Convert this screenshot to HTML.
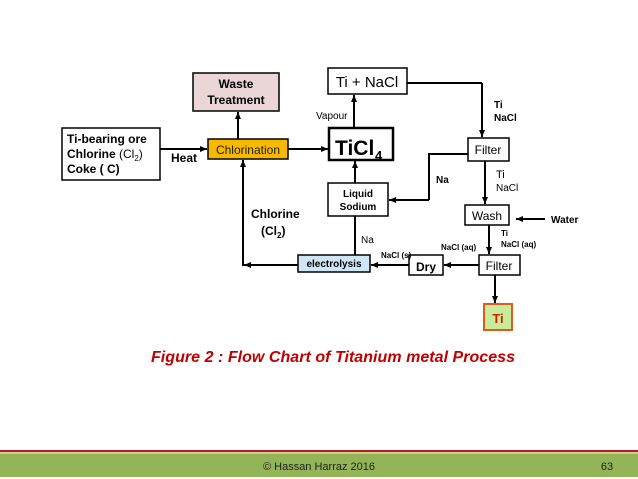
<!DOCTYPE html>
<html><head><meta charset="utf-8"><style>
html,body{margin:0;padding:0;background:#fff;}
svg{display:block;font-family:"Liberation Sans",Arial,sans-serif;}
</style></head><body>
<svg width="638" height="479" viewBox="0 0 638 479" xmlns="http://www.w3.org/2000/svg">
<defs>
<marker id="a" markerWidth="8" markerHeight="8" refX="7" refY="4" orient="auto" markerUnits="userSpaceOnUse">
<path d="M0,1 L7,4 L0,7 z" fill="#000"/></marker>
</defs>
<rect width="638" height="479" fill="#fff"/>
<g stroke="#000" stroke-width="2" fill="none">
<line x1="160" y1="149" x2="207" y2="149" marker-end="url(#a)"/>
<line x1="238" y1="139" x2="238" y2="112" marker-end="url(#a)"/>
<line x1="288" y1="149" x2="328" y2="149" marker-end="url(#a)"/>
<line x1="354" y1="128" x2="354" y2="95" marker-end="url(#a)"/>
<polyline points="407,83 482,83"/>
<line x1="482" y1="83" x2="482" y2="137" marker-end="url(#a)"/>
<polyline points="468,154 429,154 429,200"/>
<line x1="429" y1="200" x2="389" y2="200" marker-end="url(#a)"/>
<line x1="485" y1="161" x2="485" y2="204" marker-end="url(#a)"/>
<line x1="545" y1="219" x2="516" y2="219" marker-end="url(#a)"/>
<line x1="489" y1="225" x2="489" y2="254" marker-end="url(#a)"/>
<line x1="479" y1="265" x2="444" y2="265" marker-end="url(#a)"/>
<line x1="409" y1="265" x2="371" y2="265" marker-end="url(#a)"/>
<line x1="355" y1="255" x2="355" y2="216"/>
<line x1="355" y1="183" x2="355" y2="161" marker-end="url(#a)"/>
<line x1="298" y1="265" x2="244" y2="265" marker-end="url(#a)"/>
<line x1="243" y1="266" x2="243" y2="160" marker-end="url(#a)"/>
<line x1="495" y1="275" x2="495" y2="303" marker-end="url(#a)"/>
</g>
<g stroke="#000" stroke-width="1.5">
<rect x="62" y="128" width="98" height="52" fill="#fff"/>
<rect x="193" y="73" width="86" height="38" fill="#ead6d6"/>
<rect x="208" y="139" width="80" height="20" fill="#f7b800"/>
<rect x="328" y="68" width="79" height="26" fill="#fff"/>
<rect x="329" y="128" width="64" height="32" fill="#fff" stroke-width="2.5"/>
<rect x="328" y="183" width="60" height="33" fill="#fff"/>
<rect x="468" y="138" width="41" height="23" fill="#fff"/>
<rect x="465" y="205" width="44" height="20" fill="#fff"/>
<rect x="479" y="255" width="41" height="20" fill="#fff"/>
<rect x="409" y="255" width="34" height="20" fill="#fff"/>
<rect x="298" y="255" width="72" height="17" fill="#cfe6f6"/>
<rect x="484" y="304" width="28" height="26" fill="#c8ec9c" stroke="#e05a1a" stroke-width="2"/>
</g>
<g font-size="12" font-weight="bold" fill="#000">
<text x="67" y="143">Ti-bearing ore</text>
<text x="67" y="158">Chlorine <tspan font-weight="normal">(Cl<tspan font-size="8" dy="3">2</tspan><tspan dy="-3">)</tspan></tspan></text>
<text x="67" y="173">Coke ( C)</text>
<text x="171" y="162">Heat</text>
<text x="236" y="88" text-anchor="middle">Waste</text>
<text x="236" y="104" text-anchor="middle">Treatment</text>
<text x="251" y="218">Chlorine</text>
<text x="261" y="235">(Cl<tspan font-size="8" dy="3">2</tspan><tspan dy="-3">)</tspan></text>
</g>
<text x="248" y="154" font-size="12" text-anchor="middle" fill="#222">Chlorination</text>
<text x="367" y="87" font-size="15" text-anchor="middle">Ti + NaCl</text>
<text x="335" y="155" font-size="21" font-weight="bold">TiCl</text>
<text x="375" y="160" font-size="13" font-weight="bold">4</text>
<text x="316" y="119" font-size="10">Vapour</text>
<g font-size="10" font-weight="bold" text-anchor="middle">
<text x="358" y="197">Liquid</text>
<text x="358" y="210">Sodium</text>
</g>
<text x="334" y="267" font-size="10" font-weight="bold" text-anchor="middle">electrolysis</text>
<text x="488" y="154" font-size="12" text-anchor="middle">Filter</text>
<text x="487" y="220" font-size="12" text-anchor="middle">Wash</text>
<text x="499" y="270" font-size="12" text-anchor="middle">Filter</text>
<text x="426" y="271" font-size="12" font-weight="bold" text-anchor="middle">Dry</text>
<text x="498" y="323" font-size="13" font-weight="bold" fill="#d02000" text-anchor="middle">Ti</text>
<g font-size="10" font-weight="bold">
<text x="494" y="108">Ti</text>
<text x="494" y="121">NaCl</text>
<text x="436" y="183">Na</text>
<text x="551" y="223">Water</text>
</g>
<g font-size="8" font-weight="bold">
<text x="501" y="236">Ti</text>
<text x="501" y="247">NaCl (aq)</text>
<text x="441" y="250">NaCl (aq)</text>
<text x="381" y="258">NaCl (s)</text>
</g>
<text x="496" y="178" font-size="11">Ti</text>
<text x="496" y="191" font-size="10">NaCl</text>
<text x="361" y="243" font-size="10">Na</text>
<text x="151" y="362" font-size="16" font-weight="bold" font-style="italic" fill="#c00000" textLength="364">Figure 2 : Flow Chart of Titanium metal Process</text>
<rect x="0" y="450" width="638" height="2" fill="#b02020"/>
<rect x="0" y="452" width="638" height="2" fill="#d8c890"/>
<rect x="0" y="454" width="638" height="23" fill="#94b458"/>
<text x="319" y="470" font-size="11" text-anchor="middle" fill="#222">© Hassan Harraz 2016</text>
<text x="607" y="470" font-size="11" text-anchor="middle" fill="#222">63</text>
</svg>
</body></html>
